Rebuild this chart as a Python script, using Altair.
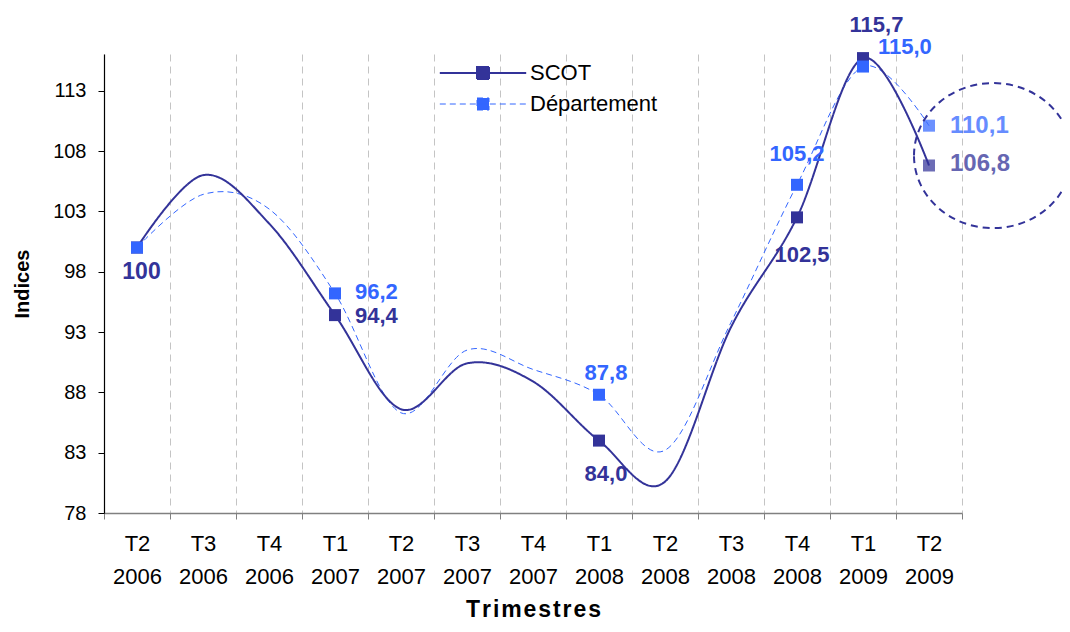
import altair as alt
import pandas as pd

# ---------------- data ----------------
quarters = ["T2 2006", "T3 2006", "T4 2006", "T1 2007", "T2 2007", "T3 2007", "T4 2007",
            "T1 2008", "T2 2008", "T3 2008", "T4 2008", "T1 2009", "T2 2009"]
scot = [100.0, 106.0, 102.0, 94.4, 86.6, 90.4, 88.9, 84.0, 80.6, 93.4, 102.5, 115.7, 106.8]
dept = [100.0, 104.4, 103.2, 96.2, 86.3, 91.5, 89.9, 87.8, 83.2, 93.8, 105.2, 115.0, 110.1]
series_names = ["SCOT", "Département"]
marked_quarters = ["T2 2006", "T1 2007", "T1 2008", "T4 2008", "T1 2009", "T2 2009"]
y_ticks = [78, 83, 88, 93, 98, 103, 108, 113]
y_domain = [78, 116.04]
highlight_quarter = "T2 2009"

# ---------------- styles ----------------
colors = ["#333399", "#3366FF"]
FONT = "Liberation Sans"

rows = []
for name, vals in zip(series_names, [scot, dept]):
    for i, (q, v) in enumerate(zip(quarters, vals)):
        txt = "100" if i == 0 else f"{v:.1f}".replace(".", ",")
        rows.append({"q": q, "series": name, "v": v, "label": txt,
                     "marked": q in marked_quarters})
df = pd.DataFrame(rows)

# label placement (style): series, quarter, align, dx, dy, fontSize, opacity
placements = [
    ("SCOT", "T2 2006", "center", 4.5, 31, 23, 1),
    ("Département", "T1 2007", "left", 20, 6, 22, 1),
    ("SCOT", "T1 2007", "left", 20, 7.5, 22, 1),
    ("Département", "T1 2008", "center", 7, -15, 22, 1),
    ("SCOT", "T1 2008", "center", 7, 40, 22, 1),
    ("Département", "T4 2008", "center", 0, -24, 22, 1),
    ("SCOT", "T4 2008", "center", 5, 45, 22, 1),
    ("SCOT", "T1 2009", "center", 13.5, -26.5, 22, 1),
    ("Département", "T1 2009", "left", 15, -13, 22, 1),
    ("Département", "T2 2009", "left", 21, 7.6, 24, 0.75),
    ("SCOT", "T2 2009", "left", 21, 6, 24, 0.75),
]

LEGEND_SYMBOL = "M-7.2,0H7.2M-1,-1H1V1H-1Z"
ELLIPSE = "M-1,0A1,0.918,0,1,1,1,0A1,0.918,0,1,1,-1,0Z"

legend = alt.Legend(
    orient="none", legendX=368, legendY=8, title=None,
    symbolType=LEGEND_SYMBOL, symbolSize=144, labelOffset=36,
    labelFont=FONT, labelFontSize=22, labelColor="black", rowPadding=9,
    padding=0, symbolOpacity=1,
    symbolFillColor=alt.ExprRef(expr="scale('color', datum.value)"),
)

x_enc = alt.X(
    "q:N", sort=quarters,
    scale=alt.Scale(type="band", paddingInner=0, paddingOuter=0),
    axis=alt.Axis(
        title="\u200a".join("Trimestres"), titleFont=FONT, titleFontSize=23,
        titleFontWeight="bold", titleColor="black", titlePadding=11,
        labelExpr="split(datum.label, ' ')", labelAngle=0, labelFont=FONT,
        labelFontSize=22, labelLineHeight=33, labelColor="black", labelPadding=14,
        tickBand="extent", tickSize=6, tickColor="#808080",
        domainColor="#808080", domainWidth=1.5,
        grid=True, gridDash=[7, 5], gridColor="#c4c4c4", gridWidth=1,
    ),
)
y_enc = alt.Y(
    "v:Q",
    scale=alt.Scale(domain=y_domain, nice=False, zero=False),
    axis=alt.Axis(
        values=y_ticks, grid=False, title="Indices", titleFont=FONT,
        titleFontSize=20, titleFontWeight="bold", titleColor="black", titlePadding=20,
        labelFont=FONT, labelFontSize=20, labelColor="black", labelPadding=12,
        tickSize=6, tickColor="black", domainColor="black", domainWidth=1.2,
    ),
)

color_enc = alt.Color("series:N", scale=alt.Scale(domain=series_names, range=colors),
                      legend=legend)
dash_enc = alt.StrokeDash("series:N", scale=alt.Scale(domain=series_names,
                                                      range=[[1, 0], [6, 4]]), legend=legend)
width_enc = alt.StrokeWidth("series:N", scale=alt.Scale(domain=series_names, range=[2, 1]),
                            legend=legend)

base = alt.Chart(df)

line_dept = base.transform_filter(alt.datum.series == "Département").mark_line(
    interpolate="cardinal").encode(x=x_enc, y=y_enc, color=color_enc,
                                   strokeDash=dash_enc, strokeWidth=width_enc)
line_scot = base.transform_filter(alt.datum.series == "SCOT").mark_line(
    interpolate="cardinal").encode(x=x_enc, y=y_enc, color=color_enc,
                                   strokeDash=dash_enc, strokeWidth=width_enc)

def points(name):
    return base.transform_filter(
        (alt.datum.series == name) & alt.datum.marked
    ).mark_point(shape="square", filled=True, size=144).encode(
        x=x_enc, y=y_enc, color=color_enc,
        opacity=alt.condition(alt.datum.q == highlight_quarter, alt.value(0.72), alt.value(1)),
    )

layers = [line_dept, line_scot, points("SCOT"), points("Département")]

for name, q, align, dx, dy, fs, op in placements:
    col = colors[series_names.index(name)]
    layers.append(
        base.transform_filter((alt.datum.series == name) & (alt.datum.q == q))
        .mark_text(align=align, baseline="alphabetic", dx=dx, dy=dy, font=FONT,
                   fontSize=fs, fontWeight="bold", color=col, opacity=op)
        .encode(x=x_enc, y=y_enc, text="label:N")
    )

ell_df = pd.DataFrame({"q": [highlight_quarter],
                       "v": [(scot[-1] + dept[-1]) / 2]})
ellipse = alt.Chart(ell_df).mark_point(
    shape=ELLIPSE, size=24964, filled=False, stroke="#333399", strokeWidth=2,
    strokeDash=[7, 5], xOffset=64, yOffset=10, opacity=1,
).encode(x=x_enc, y=y_enc)
layers.append(ellipse)

chart = alt.layer(*layers).properties(
    width=858, height=459,
    autosize=alt.AutoSizeParams(type="none"),
    padding={"left": 96, "top": 46, "right": 100, "bottom": 111},
    background="white",
).configure_view(stroke=None)

chart.save("out.html", embed_options={"renderer": "svg", "actions": False})
